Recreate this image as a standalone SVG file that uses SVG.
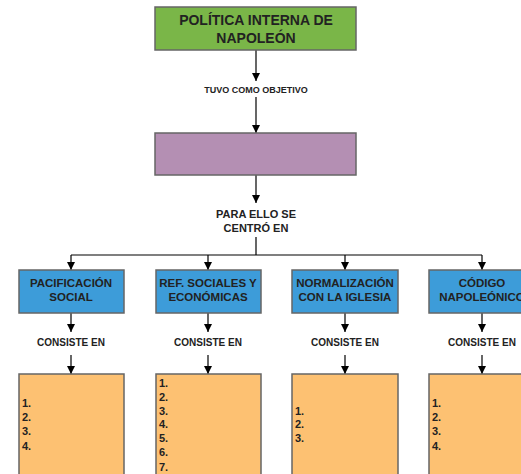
<svg xmlns="http://www.w3.org/2000/svg" width="521" height="474" viewBox="0 0 521 474">
<defs>
<marker id="arr" viewBox="0 0 8 10" refX="8" refY="5" markerWidth="8" markerHeight="10" markerUnits="userSpaceOnUse" orient="auto">
<path d="M0,1 L8,5 L0,9 Z" fill="#000"/>
</marker>
</defs>
<style>
text{font-family:"Liberation Sans",Arial,sans-serif;font-weight:bold;fill:#222;}
.c{text-anchor:middle;}
.box{stroke:#666;stroke-width:1.5;}
.green{fill:#7ab648;}
.purple{fill:#b48fb3;}
.blue{fill:#3d9cd9;}
.orange{fill:#fdc172;}
.ln{stroke:#000;stroke-width:1.2;fill:none;}
.t14{font-size:14px;}
.t11{font-size:11px;}
.tb{font-size:11.5px;}
.t10{font-size:10px;}
.t9{font-size:9px;}
.num{font-size:11px;}
</style>
<g id="connectors">
<line class="ln" x1="256" y1="50" x2="256" y2="81" marker-end="url(#arr)"/>
<line class="ln" x1="256" y1="97" x2="256" y2="133" marker-end="url(#arr)"/>
<line class="ln" x1="256" y1="175" x2="256" y2="203" marker-end="url(#arr)"/>
<line class="ln" x1="256" y1="237" x2="256" y2="255"/>
<line class="ln" x1="71" y1="255" x2="482" y2="255"/>
<line class="ln" x1="71" y1="255" x2="71" y2="270" marker-end="url(#arr)"/>
<line class="ln" x1="208" y1="255" x2="208" y2="270" marker-end="url(#arr)"/>
<line class="ln" x1="345" y1="255" x2="345" y2="270" marker-end="url(#arr)"/>
<line class="ln" x1="482" y1="255" x2="482" y2="270" marker-end="url(#arr)"/>
<line class="ln" x1="71" y1="313" x2="71" y2="332" marker-end="url(#arr)"/>
<line class="ln" x1="208" y1="313" x2="208" y2="332" marker-end="url(#arr)"/>
<line class="ln" x1="345" y1="313" x2="345" y2="332" marker-end="url(#arr)"/>
<line class="ln" x1="482" y1="313" x2="482" y2="332" marker-end="url(#arr)"/>
<line class="ln" x1="71" y1="355" x2="71" y2="374" marker-end="url(#arr)"/>
<line class="ln" x1="208" y1="355" x2="208" y2="374" marker-end="url(#arr)"/>
<line class="ln" x1="345" y1="355" x2="345" y2="374" marker-end="url(#arr)"/>
<line class="ln" x1="482" y1="355" x2="482" y2="374" marker-end="url(#arr)"/>
</g>
<g id="labels">
<text class="c t9" x="256" y="93">TUVO COMO OBJETIVO</text>
<text class="c t11" x="256" y="218">PARA ELLO SE</text>
<text class="c t11" x="256" y="232">CENTRÓ EN</text>
<text class="c t10" x="71" y="346">CONSISTE EN</text>
<text class="c t10" x="208" y="346">CONSISTE EN</text>
<text class="c t10" x="345" y="346">CONSISTE EN</text>
<text class="c t10" x="482" y="346">CONSISTE EN</text>
</g>
<g id="title">
<rect class="box green" x="155" y="7" width="201" height="43"/>
<text class="c t14" x="256" y="25">POLÍTICA INTERNA DE</text>
<text class="c t14" x="256" y="43">NAPOLEÓN</text>
</g>
<g id="objetivo">
<rect class="box purple" x="155" y="133" width="201" height="42"/>
</g>
<g id="pacificacion">
<rect class="box blue" x="19" y="270" width="105" height="43"/>
<text class="c tb" x="71" y="287">PACIFICACIÓN</text>
<text class="c tb" x="71" y="301">SOCIAL</text>
</g>
<g id="reformas">
<rect class="box blue" x="156" y="270" width="105" height="43"/>
<text class="c tb" x="208" y="287">REF. SOCIALES Y</text>
<text class="c tb" x="208" y="301">ECONÓMICAS</text>
</g>
<g id="iglesia">
<rect class="box blue" x="292" y="270" width="106" height="43"/>
<text class="c tb" x="345" y="287">NORMALIZACIÓN</text>
<text class="c tb" x="345" y="301">CON LA IGLESIA</text>
</g>
<g id="codigo">
<rect class="box blue" x="429" y="270" width="106" height="43"/>
<text class="c tb" x="482" y="287">CÓDIGO</text>
<text class="c tb" x="482" y="301">NAPOLEÓNICO</text>
</g>
<g id="lista1">
<rect class="box orange" x="19" y="374" width="105" height="110"/>
<text class="num" x="22" y="407">1.</text>
<text class="num" x="22" y="421">2.</text>
<text class="num" x="22" y="435">3.</text>
<text class="num" x="22" y="450">4.</text>
</g>
<g id="lista2">
<rect class="box orange" x="156" y="374" width="105" height="110"/>
<text class="num" x="159" y="387">1.</text>
<text class="num" x="159" y="401">2.</text>
<text class="num" x="159" y="415">3.</text>
<text class="num" x="159" y="428">4.</text>
<text class="num" x="159" y="442">5.</text>
<text class="num" x="159" y="456">6.</text>
<text class="num" x="159" y="471">7.</text>
</g>
<g id="lista3">
<rect class="box orange" x="292" y="374" width="106" height="110"/>
<text class="num" x="295" y="415">1.</text>
<text class="num" x="295" y="428">2.</text>
<text class="num" x="295" y="442">3.</text>
</g>
<g id="lista4">
<rect class="box orange" x="429" y="374" width="106" height="110"/>
<text class="num" x="432" y="407">1.</text>
<text class="num" x="432" y="421">2.</text>
<text class="num" x="432" y="435">3.</text>
<text class="num" x="432" y="450">4.</text>
</g>
</svg>
